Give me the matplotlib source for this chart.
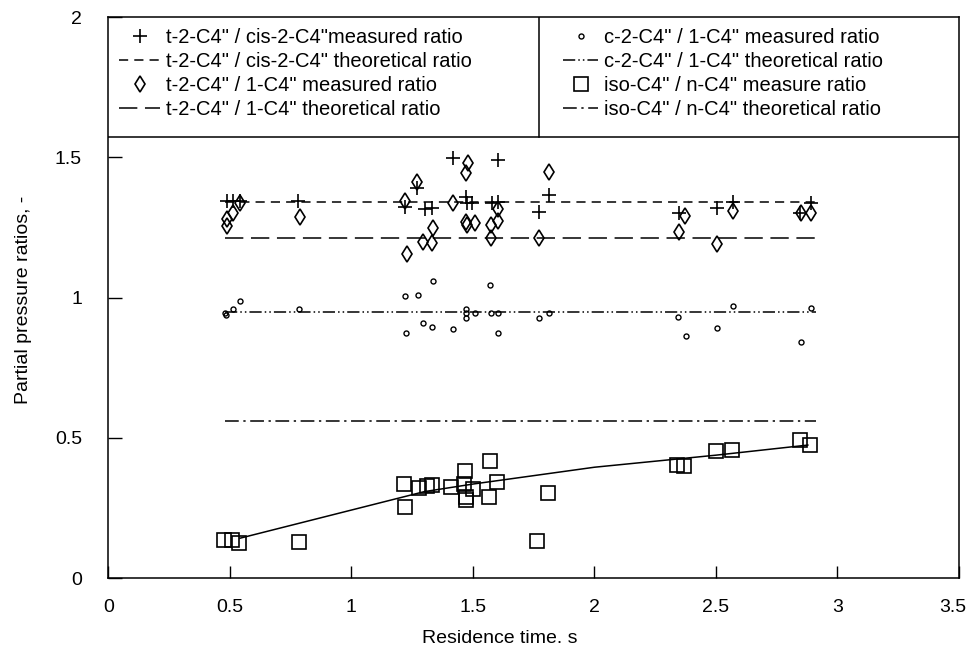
import numpy as np
import matplotlib.pyplot as plt
from matplotlib.lines import Line2D
from matplotlib.transforms import offset_copy

plt.rcParams['font.family'] = ['Liberation Sans', 'DejaVu Sans']

# t-2-C4" / cis-2-C4" measured ratio
cis_x = [0.487, 0.515, 0.542, 0.782, 1.221, 1.272, 1.303, 1.331, 1.420, 1.472, 1.477,
         1.495, 1.578, 1.605, 1.605, 1.770, 1.815, 2.346, 2.504, 2.570, 2.847, 2.892]
cis_y = [1.345, 1.345, 1.345, 1.345, 1.324, 1.389, 1.314, 1.318, 1.496, 1.359, 1.336,
         1.336, 1.338, 1.342, 1.492, 1.306, 1.365, 1.300, 1.318, 1.342, 1.302, 1.336]
cis_theory = 1.34

# t-2-C4" / 1-C4" measured ratio
one_x = [0.487, 0.487, 0.515, 0.542, 0.789, 1.221, 1.228, 1.272, 1.294, 1.333, 1.337,
         1.420, 1.471, 1.481, 1.471, 1.475, 1.509, 1.574, 1.574, 1.605, 1.605, 1.770,
         1.815, 2.346, 2.373, 2.506, 2.570, 2.849, 2.892]
one_y = [1.279, 1.255, 1.300, 1.336, 1.286, 1.345, 1.154, 1.413, 1.199, 1.196, 1.247,
         1.336, 1.445, 1.481, 1.270, 1.258, 1.267, 1.258, 1.211, 1.314, 1.273, 1.214,
         1.449, 1.235, 1.290, 1.191, 1.310, 1.302, 1.300]
one_theory = 1.213

# c-2-C4" / 1-C4" measured ratio
c2_x = [0.480, 0.484, 0.512, 0.542, 0.786, 1.221, 1.225, 1.273, 1.294, 1.333, 1.337,
        1.417, 1.472, 1.472, 1.472, 1.509, 1.571, 1.574, 1.605, 1.605, 1.770, 1.815,
        2.343, 2.375, 2.504, 2.570, 2.849, 2.891]
c2_y = [0.946, 0.938, 0.958, 0.988, 0.958, 1.005, 0.875, 1.008, 0.908, 0.896, 1.058,
        0.887, 0.958, 0.944, 0.926, 0.946, 1.046, 0.946, 0.946, 0.875, 0.926, 0.946,
        0.932, 0.863, 0.890, 0.970, 0.840, 0.962]
c2_theory = 0.95

# iso-C4" / n-C4" measured ratio
iso_x = [0.477, 0.508, 0.539, 0.784, 1.216, 1.221, 1.277, 1.310, 1.333, 1.410, 1.469,
         1.465, 1.472, 1.472, 1.502, 1.571, 1.565, 1.601, 1.811, 1.765, 2.339, 2.370,
         2.501, 2.567, 2.847, 2.888]
iso_y = [0.135, 0.135, 0.124, 0.127, 0.335, 0.254, 0.320, 0.328, 0.330, 0.323, 0.383,
         0.335, 0.288, 0.278, 0.318, 0.418, 0.290, 0.342, 0.302, 0.133, 0.402, 0.399,
         0.454, 0.456, 0.492, 0.473]
iso_theory = 0.56

# fitted trend through the iso/n points
fit_x = [0.542, 1.3, 1.5, 2.0, 2.5, 2.878]
fit_y = [0.142, 0.308, 0.335, 0.395, 0.438, 0.474]

theory_span = [0.48, 2.91]

fig = plt.figure(figsize=(9.68, 6.6), dpi=100)
ax = fig.add_axes([0.1119, 0.1242, 0.8788, 0.85])

lw = 1.1
cis_ls = (0, (6, 4))
one_ls = (0, (12, 5))
c2_ls = (0, (8, 2, 1, 2, 1, 2))
iso_ls = (0, (9, 3, 1.5, 3))
plus_kw = dict(marker='+', color='black', ms=10.5, mew=1.2)
diam_kw = dict(marker='d', color='black', mfc='none', ms=8.5, mew=1.2)
circ_kw = dict(marker='o', color='black', mfc='none', ms=3.6, mew=1.0)
sq_kw = dict(marker='s', color='black', mfc='none', ms=9.5, mew=1.2)

ax.plot(theory_span, [cis_theory] * 2, color='black', lw=lw, ls=cis_ls)
ax.plot(theory_span, [one_theory] * 2, color='black', lw=lw, ls=one_ls)
ax.plot(theory_span, [c2_theory] * 2, color='black', lw=lw, ls=c2_ls)
ax.plot(theory_span, [iso_theory] * 2, color='black', lw=lw, ls=iso_ls)
ax.plot(fit_x, fit_y, color='black', lw=lw)

ax.plot(cis_x, cis_y, ls='none', **plus_kw)
ax.plot(one_x, one_y, ls='none', **diam_kw)
ax.plot(c2_x, c2_y, ls='none', **circ_kw)
ax.plot(iso_x, iso_y, ls='none', **sq_kw)

ax.set_xlim(0, 3.5)
ax.set_ylim(0, 2)
ax.set_xticks(np.arange(0, 3.51, 0.5))
ax.set_xticklabels(['0', '0.5', '1', '1.5', '2', '2.5', '3', '3.5'])
ax.set_yticks([0, 0.5, 1, 1.5, 2])
ax.set_yticklabels(['0', '0.5', '1', '1.5', '2'])
ax.tick_params(axis='x', direction='in', length=9, width=1, pad=15, labelsize=14)
ax.tick_params(axis='y', direction='in', length=10, width=1, pad=19, labelsize=14)
for sp in ax.spines.values():
    sp.set_linewidth(1.1)

# keep the last x label inside the canvas
last = ax.get_xticklabels()[-1]
last.set_transform(offset_copy(last.get_transform(), fig=fig, x=-6, units='dots'))

ax.set_xlabel('Residence time. s', fontsize=14)
ax.xaxis.set_label_coords(0.46, -0.093)
ax.set_ylabel('Partial pressure ratios, -', fontsize=14)
ax.yaxis.set_label_coords(-0.09, 0.496)

# legend panel across the top of the axes
box_bottom = 0.786
divider = 0.506
ax.add_patch(plt.Rectangle((0, box_bottom), 1, 1 - box_bottom, transform=ax.transAxes,
                           facecolor='white', edgecolor='none', zorder=1.5))
ax.plot([0, 1], [box_bottom, box_bottom], transform=ax.transAxes, color='black', lw=1.1,
        zorder=2)
ax.plot([divider, divider], [box_bottom, 1], transform=ax.transAxes, color='black', lw=1.1,
        zorder=2)

left_handles = [
    Line2D([], [], ls='none', **plus_kw),
    Line2D([], [], color='black', lw=lw, ls=cis_ls),
    Line2D([], [], ls='none', **diam_kw),
    Line2D([], [], color='black', lw=lw, ls=one_ls),
]
left_labels = [
    't-2-C4" / cis-2-C4"measured ratio',
    't-2-C4" / cis-2-C4" theoretical ratio',
    't-2-C4" / 1-C4" measured ratio',
    't-2-C4" / 1-C4" theoretical ratio',
]
right_handles = [
    Line2D([], [], ls='none', **circ_kw),
    Line2D([], [], color='black', lw=lw, ls=c2_ls),
    Line2D([], [], ls='none', **sq_kw),
    Line2D([], [], color='black', lw=lw, ls=iso_ls),
]
right_labels = [
    'c-2-C4" / 1-C4" measured ratio',
    'c-2-C4" / 1-C4" theoretical ratio',
    'iso-C4" / n-C4" measure ratio',
    'iso-C4" / n-C4" theoretical ratio',
]

leg_kw = dict(frameon=False, fontsize=14.5, borderpad=0, borderaxespad=0,
              handletextpad=0.3, labelspacing=0.24)
leg1 = ax.legend(left_handles, left_labels, loc='upper left', handlelength=2.0,
                 bbox_to_anchor=(0.013, 0.98), **leg_kw)
leg1.set_zorder(3)
ax.add_artist(leg1)
leg2 = ax.legend(right_handles, right_labels, loc='upper left', handlelength=1.7,
                 bbox_to_anchor=(0.535, 0.98), **leg_kw)
leg2.set_zorder(3)

fig.savefig('out.png', dpi=100)
